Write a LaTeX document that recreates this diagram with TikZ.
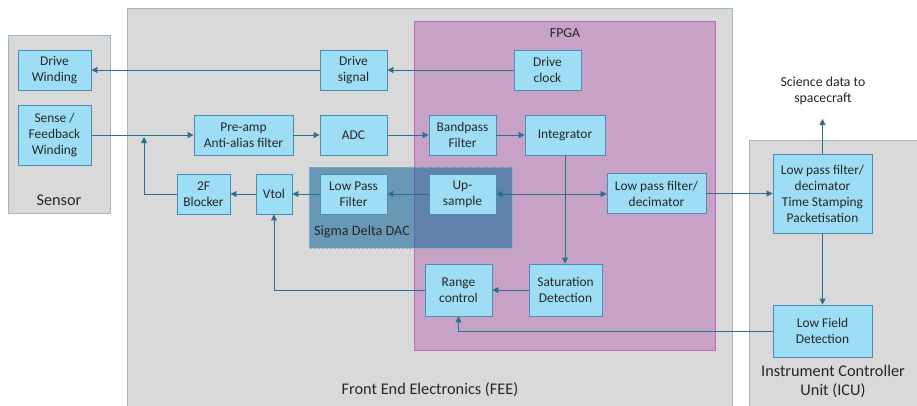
\documentclass[tikz,border=0pt]{standalone}
\usepackage{fontspec}
\setmainfont{Carlito}
\usetikzlibrary{arrows.meta}
\definecolor{boxfill}{HTML}{9EDDF6}
\definecolor{boxline}{HTML}{4A8DB4}
\definecolor{wirec}{HTML}{2B6E8E}
\definecolor{greyfill}{HTML}{D9D9D9}
\definecolor{greyline}{HTML}{9DB8C8}
\definecolor{fpgafill}{HTML}{C8A2C6}
\definecolor{fpgaline}{HTML}{C462BE}
\definecolor{dacfill}{HTML}{1F6E9E}
\definecolor{dacline}{HTML}{7FB0C4}
\definecolor{txt}{HTML}{262626}
\begin{document}
\begin{tikzpicture}[x=1pt,y=-1pt,
  blk/.style={draw=boxline, line width=0.9pt, fill=boxfill, align=center, inner sep=0pt,
    text=txt, font=\fontsize{13.4}{16}\selectfont},
  wire/.style={draw=wirec, line width=1pt, -{Triangle[length=6pt,width=6pt]}},
  container/.style={draw=greyline, line width=0.9pt, fill=greyfill},
  biglabel/.style={text=txt, align=center, font=\fontsize{16.3}{19}\selectfont},
  smalllabel/.style={text=txt, align=center, font=\fontsize{13.8}{16.5}\selectfont}
]
\useasboundingbox (0,0) rectangle (917,405);
\clip (0,0) rectangle (917,405);
\fill[white] (0,0) rectangle (917,405);

% containers
\draw[container] (8,35) rectangle (110,213);
\draw[container] (127,8) rectangle (732,420);
\draw[container] (749,140) rectangle (930,420);
\draw[fill=fpgafill, draw=fpgaline, line width=0.9pt] (414,21) rectangle (715,350);
\fill[dacfill, fill opacity=0.6] (309,167) rectangle (512,248);
\draw[dacline, densely dotted, line width=0.6pt] (309,167) rectangle (512,248);

% container labels
\node[smalllabel] (fpgalab) at (565,33) {FPGA};
\node[biglabel] (senslab) at (59,200) {Sensor};
\node[biglabel] (feelab) at (430,390) {Front End Electronics (FEE)};
\node[biglabel] (iculab) at (833,381) {Instrument Controller\\Unit (ICU)};
\node[smalllabel] (scilab) at (823,91) {Science data to\\spacecraft};
\node[smalllabel, font=\fontsize{14.2}{16}\selectfont] (daclab) at (362,232) {Sigma Delta DAC};

% blocks
\node[blk, minimum width=73pt, minimum height=40pt] (dw) at (54.5,70) {Drive\\Winding};
\node[blk, minimum width=73pt, minimum height=60pt] (sfw) at (54.5,135) {Sense /\\Feedback\\Winding};
\node[blk, minimum width=67pt, minimum height=40pt] (dsig) at (353.5,70) {Drive\\signal};
\node[blk, minimum width=67pt, minimum height=40pt] (dclk) at (547.5,70) {Drive\\clock};
\node[blk, minimum width=99pt, minimum height=40pt] (pre) at (243.5,135) {Pre-amp\\Anti-alias filter};
\node[blk, minimum width=67pt, minimum height=40pt] (adc) at (353.5,135) {ADC};
\node[blk, minimum width=67pt, minimum height=40pt] (bp) at (462.5,135) {Bandpass\\Filter};
\node[blk, minimum width=80pt, minimum height=40pt] (integ) at (565,135) {Integrator};
\node[blk, minimum width=53pt, minimum height=40pt] (b2f) at (203.5,194) {2F\\Blocker};
\node[blk, minimum width=36pt, minimum height=40pt] (vtol) at (274,194) {Vtol};
\node[blk, minimum width=67pt, minimum height=40pt] (lpf) at (353.5,194) {Low Pass\\Filter};
\node[blk, minimum width=67pt, minimum height=40pt] (up) at (462.5,194) {Up-\\sample};
\node[blk, minimum width=99pt, minimum height=40pt] (lpfd) at (656.5,193.5) {Low pass filter/\\decimator};
\node[blk, minimum width=99pt, minimum height=79pt] (icu) at (822.5,193.5) {Low pass filter/\\decimator\\Time Stamping\\Packetisation};
\node[blk, minimum width=99pt, minimum height=52pt] (lfd) at (822.5,331) {Low Field\\Detection};
\node[blk, minimum width=73pt, minimum height=52pt] (sat) at (565.5,290) {Saturation\\Detection};
\node[blk, minimum width=67pt, minimum height=52pt] (rng) at (458.5,290) {Range\\control};

% connectors
\coordinate (jn) at (144,137);
\coordinate (jx) at (565,194);
\coordinate (sci) at (822.5,119);
\draw[wire] (dclk) -- (dsig);
\draw[wire] (dsig) -- (dw);
\draw[wire] (sfw.east) -- (pre.west);
\draw[wire] (b2f.west) -| (jn);
\draw[wire] (pre) -- (adc);
\draw[wire] (adc) -- (bp);
\draw[wire] (bp) -- (integ);
\draw[wire] (integ.south) -- (integ.south |- sat.north);
\draw[wire] (jx) -- (up.east);
\draw[wire] (jx) -- (jx -| lpfd.west);
\draw[wire] (up) -- (lpf);
\draw[wire] (lpf) -- (vtol);
\draw[wire] (vtol) -- (b2f);
\draw[wire] (rng.west) -| (vtol.south);
\draw[wire] (sat) -- (rng);
\draw[wire] (lfd.west) -| (rng.south);
\draw[wire] (lpfd.east) -- (icu.west);
\draw[wire] (icu.north) -- (sci);
\draw[wire] (icu.south) -- (lfd.north);
\end{tikzpicture}
\end{document}
